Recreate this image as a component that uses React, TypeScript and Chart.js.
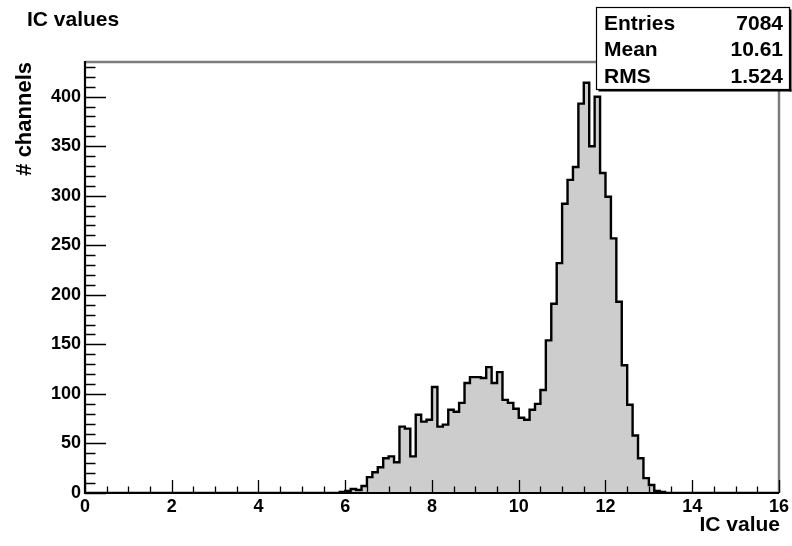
import React, { useEffect, useRef } from 'react';
import { Chart, registerables } from 'chart.js';

Chart.register(...registerables);

// Histogram "IC values": 128 equal bins on [0, 16]
const histTitle = 'IC values';
const xTitle = 'IC value';
const yTitle = '# channels';
const xRange = [0, 16];
const yMax = 435;

const counts = [
  0, 0, 0, 0, 0, 0, 0, 0, 0, 0, 0, 0, 0, 0, 0, 0,
  0, 0, 0, 0, 0, 0, 0, 0, 0, 0, 0, 0, 0, 0, 0, 0,
  0, 0, 0, 0, 0, 0, 0, 0, 0, 0, 0, 0, 0, 0, 0, 1,
  2, 4, 3, 7, 16, 21, 26, 35, 37, 31, 67, 65, 37, 79, 72, 74,
  107, 67, 69, 84, 82, 91, 111, 117, 117, 116, 127, 111, 122, 94, 91, 85,
  76, 74, 84, 90, 104, 154, 191, 232, 292, 316, 329, 393, 414, 350, 400, 323,
  299, 257, 193, 129, 89, 58, 35, 15, 8, 2, 1, 0, 0, 0, 0, 0,
  0, 0, 0, 0, 0, 0, 0, 0, 0, 0, 0, 0, 0, 0, 0, 0,
];

const xMajorStep = 2;
const xMinorStep = 0.5;
const yMajorStep = 50;
const yMinorStep = 10;

const statNames = ['Entries', 'Mean', 'RMS'];
const statValues = ['7084', '10.61', '1.524'];

const FONT = '"Liberation Sans", Arial, Helvetica, sans-serif';

// Frame, inward ticks, titles and the statistics box
const framePlugin = {
  id: 'histFrame',
  afterDraw(chart: any) {
    const { ctx, chartArea, scales } = chart;
    const { left, right, top, bottom } = chartArea;
    const xs = scales.x;
    const ys = scales.y;
    ctx.save();

    // upper and right frame edges
    ctx.strokeStyle = '#7c7c7c';
    ctx.lineWidth = 2.5;
    ctx.beginPath();
    ctx.moveTo(left, top);
    ctx.lineTo(right, top);
    ctx.lineTo(right, bottom);
    ctx.stroke();

    // axes
    ctx.strokeStyle = '#000';
    ctx.lineWidth = 2.2;
    ctx.beginPath();
    ctx.moveTo(left, top - 1);
    ctx.lineTo(left, bottom);
    ctx.lineTo(right, bottom);
    ctx.stroke();

    // y ticks (inside the frame)
    ctx.lineWidth = 1.3;
    ctx.beginPath();
    for (let v = 0; v <= yMax; v += yMinorStep) {
      const py = Math.round(ys.getPixelForValue(v)) + 0.5;
      const len = v % yMajorStep === 0 ? 21 : 10.5;
      ctx.moveTo(left, py);
      ctx.lineTo(left + len, py);
    }
    ctx.stroke();

    // x ticks (inside the frame)
    ctx.beginPath();
    for (let v = xRange[0]; v <= xRange[1] + 1e-9; v += xMinorStep) {
      const px = Math.round(xs.getPixelForValue(v)) + 0.5;
      const len = Math.abs(v / xMajorStep - Math.round(v / xMajorStep)) < 1e-9 ? 13 : 6.5;
      ctx.moveTo(px, bottom);
      ctx.lineTo(px, bottom - len);
    }
    ctx.stroke();

    ctx.fillStyle = '#000';

    // histogram title
    ctx.font = `bold 21px ${FONT}`;
    ctx.textAlign = 'left';
    ctx.textBaseline = 'middle';
    ctx.fillText(histTitle, 27, 20);

    // x axis title
    ctx.textAlign = 'right';
    ctx.fillText(xTitle, right + 1, 525);

    // y axis title
    ctx.save();
    ctx.font = `bold 22px ${FONT}`;
    ctx.translate(25, top);
    ctx.rotate(-Math.PI / 2);
    ctx.textAlign = 'right';
    ctx.textBaseline = 'middle';
    ctx.fillText(yTitle, 0, 0);
    ctx.restore();

    // statistics box
    const bx = 596.5;
    const by = 7.5;
    const bw = 193;
    const bh = 82;
    ctx.fillStyle = '#000';
    ctx.fillRect(bx + 2, by + bh, bw, 2);
    ctx.fillRect(bx + bw, by + 2, 2, bh);
    ctx.fillStyle = '#fff';
    ctx.fillRect(bx, by, bw, bh);
    ctx.strokeStyle = '#000';
    ctx.lineWidth = 1.2;
    ctx.strokeRect(bx, by, bw, bh);

    ctx.fillStyle = '#000';
    ctx.font = `bold 21px ${FONT}`;
    ctx.textBaseline = 'middle';
    const rowY = [24, 50, 77];
    statNames.forEach((name, i) => {
      ctx.textAlign = 'left';
      ctx.fillText(name, 604, rowY[i]);
      ctx.textAlign = 'right';
      ctx.fillText(statValues[i], 783, rowY[i]);
    });

    ctx.restore();
  },
};

export default function App() {
  const canvasRef = useRef<HTMLCanvasElement | null>(null);

  useEffect(() => {
    const canvas = canvasRef.current;
    if (!canvas) return;

    const binWidth = (xRange[1] - xRange[0]) / counts.length;
    const points = counts.map((c, i) => ({ x: xRange[0] + i * binWidth, y: c }));
    points.push({ x: xRange[1], y: counts[counts.length - 1] });

    const tickFont = { family: FONT, size: 18, weight: 'bold' as const };

    const chart = new Chart(canvas, {
      type: 'line',
      data: {
        datasets: [
          {
            label: histTitle,
            data: points,
            stepped: true,
            fill: 'origin',
            backgroundColor: '#cdcdcd',
            borderColor: '#000',
            borderWidth: 2.4,
            pointRadius: 0,
            pointHoverRadius: 0,
          },
        ],
      },
      options: {
        animation: false,
        responsive: false,
        maintainAspectRatio: false,
        devicePixelRatio: 1,
        layout: { padding: { left: 0, right: 13, top: 62, bottom: 0 } },
        plugins: {
          legend: { display: false },
          title: { display: false },
          tooltip: { enabled: false },
        },
        scales: {
          x: {
            type: 'linear',
            min: xRange[0],
            max: xRange[1],
            grid: { display: false, drawTicks: false },
            border: { display: false },
            ticks: {
              stepSize: xMajorStep,
              includeBounds: false,
              padding: 3,
              color: '#000',
              font: tickFont,
              maxRotation: 0,
              autoSkip: false,
            },
            afterFit(scale: any) {
              scale.height = 53;
            },
          },
          y: {
            type: 'linear',
            min: 0,
            max: yMax,
            grid: { display: false, drawTicks: false },
            border: { display: false },
            ticks: {
              stepSize: yMajorStep,
              includeBounds: false,
              padding: 4,
              color: '#000',
              font: tickFont,
              autoSkip: false,
            },
            afterFit(scale: any) {
              scale.width = 85;
            },
          },
        },
      },
      plugins: [framePlugin],
    });

    return () => chart.destroy();
  }, []);

  return (
    <div style={{ position: 'absolute', left: 0, top: 0, width: 792, height: 546, background: '#fff' }}>
      <canvas ref={canvasRef} width={792} height={546} style={{ display: 'block' }} />
    </div>
  );
}
